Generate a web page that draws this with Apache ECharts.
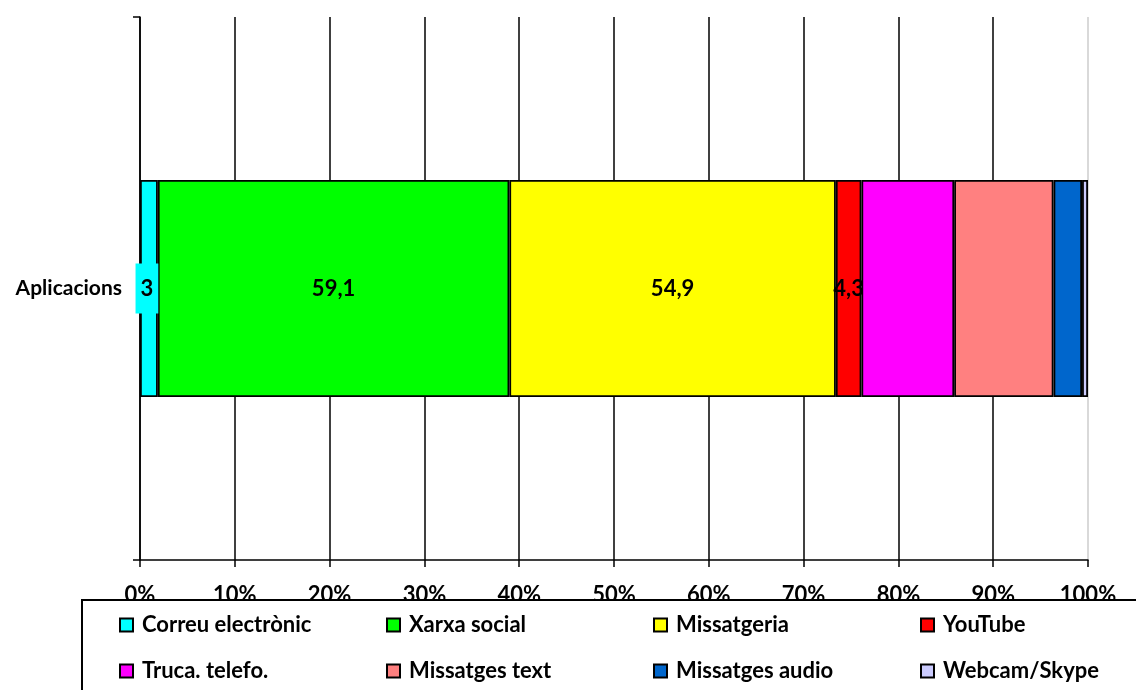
<!DOCTYPE html>
<html>
<head>
<meta charset="utf-8">
<script src="https://cdn.jsdelivr.net/npm/echarts@6/dist/echarts.min.js"></script>
<style>
  html, body { margin: 0; padding: 0; background: #fff; }
  #chart { width: 1136px; height: 690px; }
</style>
</head>
<body>
<div id="chart"></div>
<script>
// data
var categories = ['Aplicacions'];
var seriesNames = ['Correu electrònic', 'Xarxa social', 'Missatgeria', 'YouTube',
                   'Truca. telefo.', 'Missatges text', 'Missatges audio', 'Webcam/Skype'];
var seriesValues = [3, 59.1, 54.9, 4.3, 15.6, 16.7, 4.8, 1.0];
var labelled = [true, true, true, true, false, false, false, false];
var tickLabels = ['0%', '10%', '20%', '30%', '40%', '50%', '60%', '70%', '80%', '90%', '100%'];
var colors = ['#00FFFF', '#00FF00', '#FFFF00', '#FF0000', '#FF00FF', '#FF8080', '#0066CC', '#CCCCFF'];

var total = seriesValues.reduce(function (a, b) { return a + b; }, 0);
var font = 'Lato, "Open Sans", sans-serif';

var chart = echarts.init(document.getElementById('chart'));

var series = seriesNames.map(function (name, i) {
  var label = {
    show: labelled[i],
    position: 'inside',
    color: '#000',
    fontFamily: font,
    fontWeight: 'bold',
    fontSize: 22,
    formatter: function () { return String(seriesValues[i]).replace('.', ','); }
  };
  if (i === 0) {
    // excel label with a filled box
    label.backgroundColor = colors[0];
    label.padding = [14, 5];
    label.offset = [-2, 0];
  }
  return {
    name: name,
    type: 'bar',
    stack: 'total',
    barWidth: '40%',
    itemStyle: { color: colors[i], borderColor: '#000', borderWidth: 1.8 },
    label: label,
    emphasis: { disabled: true },
    data: [seriesValues[i] / total * 100]
  };
});

chart.setOption({
  animation: false,
  grid: { left: 140, right: 48, top: 17, bottom: 130 },
  xAxis: {
    type: 'value',
    min: 0,
    max: 100,
    interval: 10,
    axisLine: { show: true, lineStyle: { color: '#000', width: 1.5 } },
    axisTick: { show: true, length: 7, lineStyle: { color: '#000', width: 1.5 } },
    splitLine: {
      show: true,
      lineStyle: { color: ['#000', '#000', '#000', '#000', '#000', '#000', '#000', '#000', '#000', '#000', '#ccc'], width: 1.5 }
    },
    axisLabel: {
      margin: 24,
      color: '#000',
      fontFamily: font,
      fontWeight: 'bold',
      fontSize: 22,
      formatter: function (v) { return tickLabels[Math.round(v / 10)]; }
    }
  },
  yAxis: {
    type: 'category',
    data: categories,
    axisLine: { show: true, lineStyle: { color: '#000', width: 1.5 } },
    axisTick: { show: true, length: 7, lineStyle: { color: '#000', width: 1.5 } },
    axisLabel: {
      margin: 18,
      color: '#000',
      fontFamily: font,
      fontWeight: 'bold',
      fontSize: 21
    }
  },
  graphic: [{
    type: 'rect',
    z: 50,
    shape: { x: 82, y: 600, width: 1100, height: 200 },
    style: { fill: '#fff', stroke: '#000', lineWidth: 2 }
  }],
  legend: {
    z: 60,
    left: 119,
    top: 613,
    width: 1064,
    padding: 0,
    itemGap: 22,
    itemWidth: 13,
    itemHeight: 13,
    icon: 'rect',
    selectedMode: false,
    textStyle: {
      width: 222,
      padding: [0, 0, 0, 4],
      lineHeight: 24,
      color: '#000',
      fontFamily: font,
      fontWeight: 'bold',
      fontSize: 22
    },
    data: seriesNames
  },
  series: series
});
</script>
</body>
</html>
